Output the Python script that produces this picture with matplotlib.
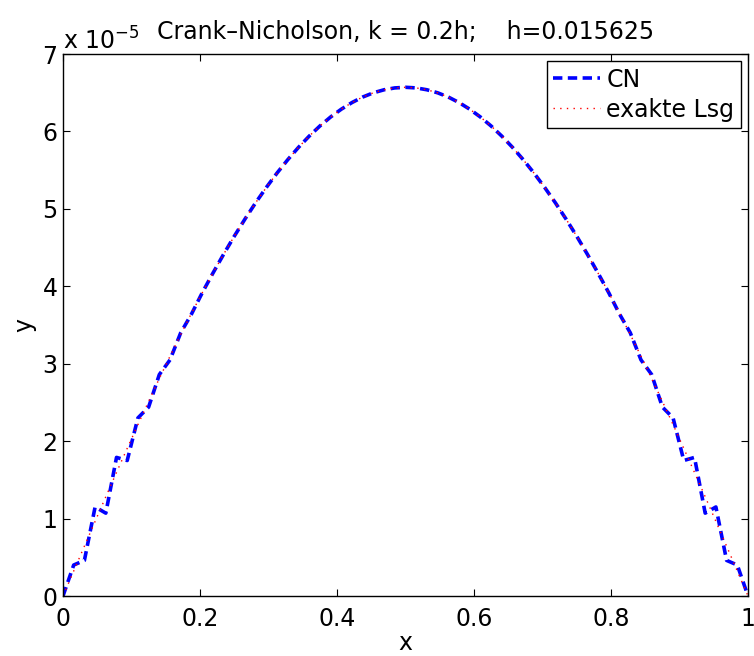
import matplotlib
matplotlib.use('Agg')
import matplotlib.pyplot as plt

# grid points x_i = i*h, h = 1/64 (values below are in units of 1e-5)
h = 0.015625
x = [i * h for i in range(65)]

# exact solution (left half, mirrored for the right half)
exact_half = [0.000, 0.322, 0.644, 0.964, 1.282, 1.596, 1.907, 2.213, 2.514,
              2.809, 3.097, 3.378, 3.650, 3.914, 4.168, 4.412, 4.646, 4.868,
              5.079, 5.277, 5.463, 5.635, 5.794, 5.939, 6.070, 6.186, 6.287,
              6.373, 6.444, 6.499, 6.538, 6.562]
exact_peak = 6.570
exact = exact_half + [exact_peak] + exact_half[::-1]

# Crank-Nicholson result, oscillating near the boundaries
cn_half = [0.000, 0.400, 0.460, 1.150, 1.070, 1.790, 1.750, 2.300, 2.440,
           2.860, 3.050, 3.400, 3.640, 3.914, 4.168, 4.412, 4.646, 4.868,
           5.079, 5.277, 5.463, 5.635, 5.794, 5.939, 6.070, 6.186, 6.287,
           6.373, 6.444, 6.499, 6.538, 6.562]
cn_peak = 6.570
cn = cn_half + [cn_peak] + cn_half[::-1]

xticks = [0, 0.2, 0.4, 0.6, 0.8, 1]
xticklabels = ['0', '0.2', '0.4', '0.6', '0.8', '1']
yticks = [0, 1, 2, 3, 4, 5, 6, 7]

plt.rcParams['font.family'] = ['DejaVu Sans']
plt.rcParams['font.size'] = 17

fig = plt.figure(figsize=(7.54, 6.56), dpi=100)
ax = fig.add_axes([63 / 754, 60 / 656, 685 / 754, 542 / 656])

ax.plot(x, cn, color='blue', linestyle=(0, (2.6, 1.5)), linewidth=2.6, label='CN')
ax.plot(x, exact, color='red', linestyle=(0, (1, 3.8)), linewidth=1.0, label='exakte Lsg')

ax.set_xlim(0, 1)
ax.set_ylim(0, 7)
ax.set_xticks(xticks)
ax.set_xticklabels(xticklabels)
ax.set_yticks(yticks)
ax.tick_params(direction='in', length=5, width=0.8, top=True, right=True)
ax.tick_params(axis='x', pad=8)
ax.tick_params(axis='y', pad=4)
for s in ax.spines.values():
    s.set_linewidth(1.0)

ax.set_xlabel('x', labelpad=0)
ax.set_ylabel('y', labelpad=4)
ax.set_title('Crank\u2013Nicholson, k = 0.2h;    h=0.015625', fontsize=17, pad=11)
ax.text(0.0, 1.008, 'x 10$^{\u22125}$', transform=ax.transAxes, fontsize=17,
        ha='left', va='baseline')

leg = ax.legend(loc='upper right', fancybox=False, framealpha=1, edgecolor='black',
                handlelength=2.0, handletextpad=0.25, borderpad=0.28, labelspacing=0.25,
                borderaxespad=0.3, fontsize=17)
leg.get_frame().set_linewidth(1.0)

fig.savefig('out.png', dpi=100)
